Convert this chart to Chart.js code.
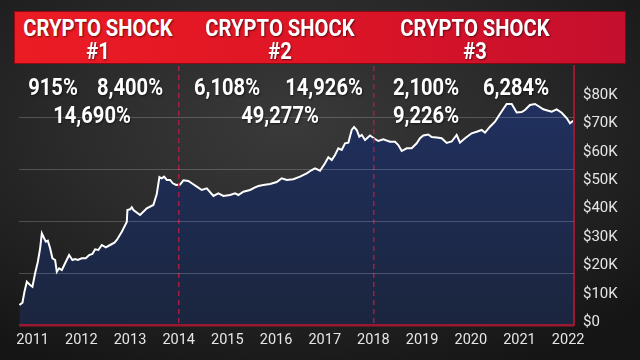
<!DOCTYPE html>
<html><head><meta charset="utf-8">
<script src="https://cdn.jsdelivr.net/npm/chart.js@4"></script>
<style>
html,body{margin:0;padding:0;width:640px;height:360px;overflow:hidden;background:#1a1a1a;}
#wrap{position:relative;width:640px;height:360px;background:radial-gradient(ellipse 75% 75% at 45% 35%, #3a3a3a 0%, #2b2b2b 45%, #151515 100%);}
canvas{position:absolute;left:0;top:0;}
#header{position:absolute;left:14px;top:11px;width:612px;height:53px;background:linear-gradient(90deg,#ec1c24 0%,#de1526 50%,#c40f2e 100%);box-shadow:inset 0 0 0 1px rgba(110,0,10,0.7);}
.t{position:absolute;color:#fff;font-family:Roboto,'Liberation Sans',sans-serif;font-weight:700;white-space:nowrap;text-shadow:1px 1px 2px rgba(0,0,0,0.55);line-height:1;}
.h{font-size:23px;transform:translate(-50%,-50%) scaleX(0.88);}
.p{font-size:24px;transform:translate(-50%,-50%) scaleX(0.84);}
</style></head>
<body><div id="wrap"><canvas id="c" width="640" height="360"></canvas><div id="header"></div></div>
<script>
// Data (x = fractional year, y = value in $K)
const dates = [2010.729,2010.791,2010.832,2010.881,2010.949,2010.996,2011.051,2011.107,2011.154,2011.189,2011.236,2011.271,2011.312,2011.359,2011.407,2011.462,2011.497,2011.544,2011.600,2011.667,2011.749,2011.817,2011.873,2011.928,2012.010,2012.092,2012.160,2012.228,2012.283,2012.351,2012.421,2012.503,2012.591,2012.680,2012.729,2012.832,2012.934,2012.947,2013.002,2013.037,2013.070,2013.207,2013.345,2013.480,2013.550,2013.604,2013.653,2013.700,2013.756,2013.823,2013.879,2013.947,2014.029,2014.097,2014.199,2014.269,2014.372,2014.474,2014.577,2014.713,2014.815,2014.918,2015.055,2015.158,2015.226,2015.329,2015.466,2015.569,2015.637,2015.739,2015.877,2016.014,2016.117,2016.220,2016.355,2016.493,2016.630,2016.733,2016.801,2016.903,2017.006,2017.074,2017.144,2017.211,2017.279,2017.349,2017.417,2017.485,2017.554,2017.602,2017.657,2017.710,2017.760,2017.828,2017.930,2018.033,2018.101,2018.203,2018.341,2018.444,2018.511,2018.581,2018.684,2018.786,2018.889,2018.957,2019.025,2019.127,2019.197,2019.300,2019.402,2019.505,2019.608,2019.710,2019.778,2019.881,2020.018,2020.121,2020.224,2020.292,2020.394,2020.497,2020.585,2020.667,2020.737,2020.840,2020.943,2021.045,2021.113,2021.216,2021.318,2021.386,2021.489,2021.593,2021.661,2021.764,2021.867,2021.969,2022.037,2022.105];
const values = [6.15,6.96,10.83,14.35,13.19,12.59,17.30,21.38,26.09,31.36,29.61,28.41,28.76,26.09,22.57,21.98,17.86,19.06,18.46,20.82,23.73,21.98,22.33,21.98,22.57,22.57,23.73,24.09,25.74,25.49,27.25,26.44,27.25,28.06,29.01,31.93,35.34,39.56,39.80,40.51,39.56,37.80,40.15,41.32,45.18,51.16,50.70,51.27,50.11,50.11,48.95,48.35,48.52,50.00,49.75,48.95,47.75,46.59,47.19,44.48,45.43,44.48,44.83,45.43,44.83,45.99,46.59,47.54,48.00,48.35,48.70,49.40,50.70,50.11,50.35,51.27,52.46,53.62,54.22,53.38,55.98,58.09,57.14,58.90,61.25,60.65,63.01,63.22,67.69,68.74,67.69,65.33,65.93,64.17,65.75,64.52,63.82,64.42,63.57,63.57,62.41,60.30,61.25,61.25,63.01,64.77,65.75,66.10,65.22,65.05,64.77,63.12,63.64,65.93,63.22,64.77,66.53,67.09,67.69,66.74,68.85,70.60,72.96,75.07,76.83,76.83,73.84,74.02,74.72,76.48,76.83,76.13,74.96,74.47,74.12,74.96,73.77,71.91,70.04,70.96];
const yearLabels = [2011,2012,2013,2014,2015,2016,2017,2018,2019,2020,2021,2022];
const valueTicksK = [0,10,20,30,40,50,60,70,80];
const shockYears = [2014, 2018];
const shockTitles = ['CRYPTO SHOCK','CRYPTO SHOCK','CRYPTO SHOCK'];
const shockNumbers = ['#1','#2','#3'];
const gainLabels = ['915%','8,400%','14,690%','6,108%','14,926%','49,277%','2,100%','6,284%','9,226%'];

// Layout of overlay text (page pixels)
const titleCenters = [98, 280, 475];
const gainPos = [[52.5,86.5],[130,86.5],[91.7,115],[227,86.5],[323.5,86.5],[279.5,115],[425.5,86.5],[515.5,86.5],[425.5,115]];
const wrap = document.getElementById('wrap');
function addText(txt, cls, x, y){
  const d = document.createElement('div');
  d.className = 't ' + cls; d.textContent = txt;
  d.style.left = x + 'px'; d.style.top = y + 'px';
  wrap.appendChild(d);
}
shockTitles.forEach((s,i)=>{ addText(s,'h',titleCenters[i],27.5); addText(shockNumbers[i],'h',titleCenters[i],50.5); });
gainLabels.forEach((s,i)=>addText(s,'p',gainPos[i][0],gainPos[i][1]));

const points = dates.map((d,i)=>({x:d, y:values[i]}));
const ctx = document.getElementById('c').getContext('2d');
new Chart(ctx, {
  type: 'line',
  data: { datasets: [{
    data: points,
    borderColor: '#ffffff',
    borderWidth: 2,
    pointRadius: 0,
    tension: 0,
    fill: 'start',
    backgroundColor: (c) => {
      const a = c.chart.chartArea;
      if (!a) return 'rgba(30,45,90,1)';
      const g = c.chart.ctx.createLinearGradient(0, a.top, 0, a.bottom);
      g.addColorStop(0, 'rgba(33,50,100,1)');
      g.addColorStop(1, 'rgba(27,37,62,1)');
      return g;
    }
  }]},
  options: {
    responsive: false,
    animation: false,
    events: [],
    layout: { padding: { left: 19, right: 0, top: 66, bottom: 0 } },
    plugins: { legend: { display: false }, tooltip: { enabled: false } },
    scales: {
      x: {
        type: 'linear', min: 2010.72, max: 2022.12,
        ticks: { stepSize: 1, includeBounds: false, autoSkip: false, maxRotation: 0, padding: 7,
          color: '#e6e6e6', font: { family: 'Roboto', size: 14.5 },
          callback: (v) => yearLabels.includes(v) ? String(v) : null },
        grid: { drawTicks: false, lineWidth: 1.5, z: 1,
          color: (c) => shockYears.includes(c.tick && c.tick.value) ? 'rgba(170,30,64,0.95)' : 'rgba(0,0,0,0)' },
        border: { display: false, dash: [5, 4] },
        afterFit: (s) => { s.height = 35; }
      },
      y: {
        type: 'linear', position: 'right', min: -0.88, max: 90.19,
        ticks: { stepSize: 10, includeBounds: false, padding: 9, color: '#e6e6e6', font: { family: 'Roboto', size: 15 },
          callback: (v) => valueTicksK.includes(v) ? (v === 0 ? '$0' : '$' + v + 'K') : null },
        grid: { display: false, drawTicks: false },
        border: { display: true, color: '#9a1830', width: 2, z: 1 },
        afterFit: (s) => { s.width = 66; }
      },
      g: {
        type: 'linear', position: 'left', min: 0, max: 5,
        ticks: { display: false, stepSize: 1 },
        grid: { drawTicks: false, z: 1,
          color: (c) => c.tick.value === 0 ? '#9a1830' : (c.tick.value === 5 ? 'rgba(0,0,0,0)' : 'rgba(255,255,255,0.2)'),
          lineWidth: (c) => c.tick.value === 0 ? 2.5 : 1 },
        border: { display: false },
        afterFit: (s) => { s.width = 0; }
      }
    }
  }
});
</script>
</body></html>
